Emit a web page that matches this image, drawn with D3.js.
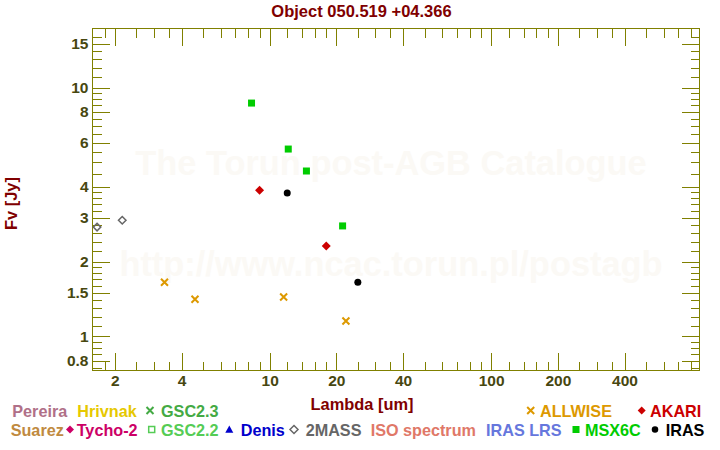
<!DOCTYPE html>
<html><head><meta charset="utf-8">
<script src="https://cdn.jsdelivr.net/npm/d3@7"></script>
<style>
html,body{margin:0;padding:0;background:#fff;}
svg{display:block;font-family:"Liberation Sans",Arial,Helvetica,sans-serif;font-weight:bold;}
</style></head>
<body>
<script>
// ---------- data ----------
const title = "Object 050.519 +04.366";
const xLabel = "Lambda [um]";
const yLabel = "Fv [Jy]";

const msx6cWave = [8.28, 12.13, 14.65, 21.34];
const msx6cFlux = [8.66, 5.66, 4.62, 2.78];

const akariWave = [9.0, 18.0];
const akariFlux = [3.87, 2.31];

const irasWave = [12.0, 25.0];
const irasFlux = [3.77, 1.65];

const allwiseWave = [3.35, 4.6, 11.56, 22.09];
const allwiseFlux = [1.65, 1.41, 1.44, 1.153];

const twomassWave = [1.662, 2.159];
const twomassFlux = [2.75, 2.93];

const xMajorTicks = [2, 4, 10, 20, 40, 100, 200, 400];
const xMinorTicks = [1.8, 2.5, 3, 3.5, 5, 6, 7, 8, 9, 12, 14, 16, 18, 25, 30, 35, 50, 60, 70, 80, 90,
                     120, 140, 160, 180, 250, 300, 350, 500, 600, 700, 800];
const yMajorTicks = [0.8, 1, 1.5, 2, 3, 4, 6, 8, 10, 15];
const yMinorTicks = [0.75, 0.85, 0.9, 0.95, 1.1, 1.2, 1.3, 1.4, 1.6, 1.7, 1.8, 1.9, 2.2, 2.4, 2.6, 2.8,
                     3.2, 3.4, 3.6, 3.8, 4.5, 5, 5.5, 6.5, 7, 7.5, 8.5, 9, 9.5, 11, 12, 13, 14, 16];

const legendRow1 = ["Pereira", "Hrivnak", "GSC2.3", "ALLWISE", "AKARI"];
const legendRow2 = ["Suarez", "Tycho-2", "GSC2.2", "Denis", "2MASS", "ISO spectrum", "IRAS LRS", "MSX6C", "IRAS"];

const watermark = ["The Torun post-AGB Catalogue", "http://www.ncac.torun.pl/postagb"];

// ---------- styles / layout ----------
const W = 720, H = 450;
const frame = {left: 92.5, right: 699.5, top: 28.5, bottom: 370.5};
const axisColor = "#808000";
const tickLabelColor = "#474710";
const titleColor = "#800000";

const legendStyle = {
  "Pereira":      {color: "#b07088", sym: null},
  "Hrivnak":      {color: "#e6c800", sym: null},
  "GSC2.3":       {color: "#44aa44", sym: "cross"},
  "ALLWISE":      {color: "#dd9900", sym: "cross"},
  "AKARI":        {color: "#cc0000", sym: "diamond"},
  "Suarez":       {color: "#c08a40", sym: null},
  "Tycho-2":      {color: "#cc0066", sym: "diamond"},
  "GSC2.2":       {color: "#55cc55", sym: "opensquare"},
  "Denis":        {color: "#0000cc", sym: "triangle"},
  "2MASS":        {color: "#666666", sym: "opendiamond"},
  "ISO spectrum": {color: "#e07868", sym: null},
  "IRAS LRS":     {color: "#6677dd", sym: null},
  "MSX6C":        {color: "#00cc00", sym: "square"},
  "IRAS":         {color: "#000000", sym: "circle"}
};
const legendSymSize = {cross: 7, diamond: 8, opensquare: 6, triangle: 8, opendiamond: 8, square: 7, circle: 6.5};
// legend layout: text start x and symbol centre x
const legendPos = {
  "Pereira": [12.3, null], "Hrivnak": [77.3, null], "GSC2.3": [161, 150], "ALLWISE": [540, 530.7], "AKARI": [650, 641.7],
  "Suarez": [10.7, null], "Tycho-2": [76.7, 70], "GSC2.2": [161, 151.7], "Denis": [240.7, 229.3], "2MASS": [305.7, 294],
  "ISO spectrum": [370.7, null], "IRAS LRS": [486, null], "MSX6C": [585, 576], "IRAS": [665.7, 655]
};

// ---------- scales ----------
const x = d3.scaleLog().domain([1.585, 872]).range([frame.left, frame.right]);
const y = d3.scaleLog().domain([0.730, 17.26]).range([frame.bottom, frame.top]);

const svg = d3.select("body").append("svg").attr("width", W).attr("height", H);

// watermark
svg.append("g").selectAll("text").data(watermark).join("text")
  .attr("x", 391).attr("y", (d, i) => i === 0 ? 175 : 275.5)
  .attr("text-anchor", "middle")
  .attr("font-size", 34.4)
  .attr("fill", "#fbf9f5")
  .text(d => d);

// title
svg.append("text").attr("x", 361.5).attr("y", 17).attr("text-anchor", "middle")
  .attr("font-size", 16.5).attr("fill", titleColor).text(title);

// axes
function styleAxis(g) {
  g.select(".domain").remove();
  g.selectAll("line").attr("stroke", axisColor).attr("shape-rendering", "crispEdges");
  g.selectAll("text").attr("fill", tickLabelColor).attr("font-size", 15.5)
    .attr("font-family", "'Liberation Sans',Arial,sans-serif").attr("font-weight", "bold");
}
const fmt = d => String(d);
const MAJ = 17.5, MIN = 9;

svg.append("g").attr("transform", `translate(0,${frame.bottom})`)
  .call(d3.axisBottom(x).tickValues(xMajorTicks).tickFormat(fmt).tickSizeInner(-MAJ).tickSizeOuter(0).tickPadding(4.5)).call(styleAxis);
svg.append("g").attr("transform", `translate(0,${frame.bottom})`)
  .call(d3.axisBottom(x).tickValues(xMinorTicks).tickFormat("").tickSizeInner(-MIN).tickSizeOuter(0)).call(styleAxis);
svg.append("g").attr("transform", `translate(0,${frame.top})`)
  .call(d3.axisTop(x).tickValues(xMajorTicks).tickFormat("").tickSizeInner(-MAJ).tickSizeOuter(0)).call(styleAxis);
svg.append("g").attr("transform", `translate(0,${frame.top})`)
  .call(d3.axisTop(x).tickValues(xMinorTicks).tickFormat("").tickSizeInner(-MIN).tickSizeOuter(0)).call(styleAxis);

svg.append("g").attr("transform", `translate(${frame.left},0)`)
  .call(d3.axisLeft(y).tickValues(yMajorTicks).tickFormat(fmt).tickSizeInner(-MAJ).tickSizeOuter(0).tickPadding(4)).call(styleAxis);
svg.append("g").attr("transform", `translate(${frame.left},0)`)
  .call(d3.axisLeft(y).tickValues(yMinorTicks).tickFormat("").tickSizeInner(-MIN).tickSizeOuter(0)).call(styleAxis);
svg.append("g").attr("transform", `translate(${frame.right},0)`)
  .call(d3.axisRight(y).tickValues(yMajorTicks).tickFormat("").tickSizeInner(-MAJ).tickSizeOuter(0)).call(styleAxis);
svg.append("g").attr("transform", `translate(${frame.right},0)`)
  .call(d3.axisRight(y).tickValues(yMinorTicks).tickFormat("").tickSizeInner(-MIN).tickSizeOuter(0)).call(styleAxis);

// frame
svg.append("rect").attr("x", frame.left).attr("y", frame.top)
  .attr("width", frame.right - frame.left).attr("height", frame.bottom - frame.top)
  .attr("fill", "none").attr("stroke", axisColor).attr("shape-rendering", "crispEdges");

// axis titles
svg.append("text").attr("x", 362).attr("y", 410).attr("text-anchor", "middle")
  .attr("font-size", 16.4).attr("fill", titleColor).text(xLabel);
svg.append("text").attr("transform", "translate(16.5,203.5) rotate(-90)").attr("text-anchor", "middle")
  .attr("font-size", 16.4).attr("fill", titleColor).text(yLabel);

// marker drawing
function drawMarker(g, type, cx, cy, color, s) {
  if (type === "square") {
    g.append("rect").attr("x", cx - s/2).attr("y", cy - s/2).attr("width", s).attr("height", s).attr("fill", color);
  } else if (type === "opensquare") {
    g.append("rect").attr("x", cx - s/2).attr("y", cy - s/2).attr("width", s).attr("height", s)
      .attr("fill", "none").attr("stroke", color).attr("stroke-width", 1.5);
  } else if (type === "diamond") {
    const r = s/2;
    g.append("path").attr("d", `M${cx},${cy-r}L${cx+r},${cy}L${cx},${cy+r}L${cx-r},${cy}Z`).attr("fill", color);
  } else if (type === "opendiamond") {
    const r = s/2;
    g.append("path").attr("d", `M${cx},${cy-r}L${cx+r},${cy}L${cx},${cy+r}L${cx-r},${cy}Z`)
      .attr("fill", "none").attr("stroke", color).attr("stroke-width", 1.5);
  } else if (type === "circle") {
    g.append("circle").attr("cx", cx).attr("cy", cy).attr("r", s/2).attr("fill", color);
  } else if (type === "cross") {
    const r = s/2;
    g.append("path").attr("d", `M${cx-r},${cy-r}L${cx+r},${cy+r}M${cx-r},${cy+r}L${cx+r},${cy-r}`)
      .attr("stroke", color).attr("stroke-width", 2).attr("fill", "none");
  } else if (type === "triangle") {
    const r = s/2;
    g.append("path").attr("d", `M${cx},${cy-r}L${cx+r},${cy+r*0.8}L${cx-r},${cy+r*0.8}Z`).attr("fill", color);
  }
}

// data series
const series = [
  {name: "2MASS", wave: twomassWave, flux: twomassFlux, size: 7.5},
  {name: "ALLWISE", wave: allwiseWave, flux: allwiseFlux, size: 7},
  {name: "MSX6C", wave: msx6cWave, flux: msx6cFlux, size: 7},
  {name: "AKARI", wave: akariWave, flux: akariFlux, size: 9},
  {name: "IRAS", wave: irasWave, flux: irasFlux, size: 7}
];
const pts = svg.append("g");
series.forEach(s => {
  const st = legendStyle[s.name];
  s.wave.forEach((w, i) => drawMarker(pts, st.sym, x(w), y(s.flux[i]), st.color, s.size));
});

// legend
const lg = svg.append("g");
[[legendRow1, 416.5], [legendRow2, 435.5]].forEach(([row, base]) => {
  row.forEach(name => {
    const st = legendStyle[name], pos = legendPos[name];
    lg.append("text").attr("x", pos[0]).attr("y", base).attr("font-size", 16.2)
      .attr("fill", st.color).text(name);
    if (st.sym && pos[1] != null) {
      drawMarker(lg, st.sym, pos[1], base - 6, st.color, legendSymSize[st.sym]);
    }
  });
});
</script>
</body></html>
